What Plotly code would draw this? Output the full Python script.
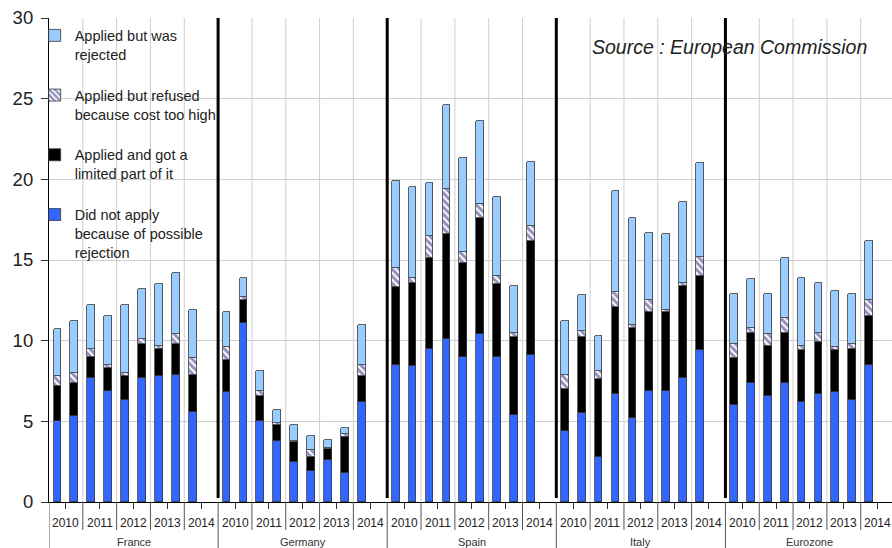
import plotly.graph_objects as go

countries = ["France", "Germany", "Spain", "Italy", "Eurozone"]
years = ["2010", "2011", "2012", "2013", "2014"]
periods = ["2010 H1", "2010 H2", "2011 H1", "2011 H2", "2012 H1", "2012 H2",
           "2013 H1", "2013 H2", "2014 H1"]

# segment heights per country, one value per half-year survey
did_not_apply = {
    "France":   [5.0, 5.3, 7.7, 6.9, 6.3, 7.7, 7.8, 7.9, 5.6],
    "Germany":  [6.8, 11.1, 5.0, 3.8, 2.5, 1.9, 2.6, 1.8, 6.2],
    "Spain":    [8.5, 8.4, 9.5, 10.1, 9.0, 10.4, 9.0, 5.4, 9.1],
    "Italy":    [4.4, 5.5, 2.8, 6.7, 5.2, 6.9, 6.9, 7.7, 9.4],
    "Eurozone": [6.0, 7.4, 6.6, 7.4, 6.2, 6.7, 6.8, 6.3, 8.5],
}
limited_part = {
    "France":   [2.2, 2.1, 1.3, 1.4, 1.5, 2.1, 1.7, 1.9, 2.3],
    "Germany":  [2.0, 1.4, 1.6, 1.0, 1.2, 0.9, 0.7, 2.2, 1.6],
    "Spain":    [4.8, 5.2, 5.6, 6.5, 5.8, 7.2, 4.5, 4.8, 7.1],
    "Italy":    [2.6, 4.7, 4.8, 5.4, 5.6, 4.9, 4.9, 5.7, 4.6],
    "Eurozone": [2.9, 3.1, 3.1, 3.1, 3.2, 3.2, 2.6, 3.2, 3.0],
}
refused_cost = {
    "France":   [0.6, 0.6, 0.5, 0.2, 0.2, 0.3, 0.2, 0.6, 1.0],
    "Germany":  [0.8, 0.2, 0.3, 0.1, 0.1, 0.4, 0.05, 0.2, 0.7],
    "Spain":    [1.2, 0.3, 1.4, 2.8, 0.7, 0.9, 0.5, 0.3, 0.9],
    "Italy":    [0.9, 0.4, 0.5, 0.9, 0.2, 0.7, 0.1, 0.2, 1.2],
    "Eurozone": [0.9, 0.3, 0.7, 0.9, 0.3, 0.6, 0.2, 0.3, 1.0],
}
rejected = {
    "France":   [2.9, 3.2, 2.7, 3.0, 4.2, 3.1, 3.8, 3.8, 3.0],
    "Germany":  [2.2, 1.2, 1.2, 0.8, 1.0, 0.9, 0.5, 0.4, 2.5],
    "Spain":    [5.4, 5.6, 3.3, 5.2, 5.8, 5.1, 4.9, 2.9, 4.0],
    "Italy":    [3.3, 2.2, 2.2, 6.3, 6.6, 4.2, 4.7, 5.0, 5.8],
    "Eurozone": [3.1, 3.0, 2.5, 3.7, 4.2, 3.1, 3.5, 3.1, 3.7],
}

y_ticks = [0, 5, 10, 15, 20, 25, 30]
FONT = "Arial, Liberation Sans, sans-serif"
SLOTS = 10  # half-year slots per country (last one empty)

xs = []
for g, c in enumerate(countries):
    for j, p in enumerate(periods):
        xs.append(g * SLOTS + j + 0.5)

def flat(d):
    out = []
    for c in countries:
        out.extend(d[c])
    return out

series = [
    ("Did not apply<br>because of possible<br>rejection", did_not_apply,
     dict(color="#3366FF"), 4),
    ("Applied and got a<br>limited part of it", limited_part,
     dict(color="#000000"), 3),
    ("Applied but refused<br>because cost too high", refused_cost,
     dict(color="#FFFFFF", pattern=dict(shape="\\", fgcolor="#23237F",
                                         bgcolor="#FFFFFF", size=5, solidity=0.6)), 2),
    ("Applied but was<br>rejected", rejected, dict(color="#99CCFF"), 1),
]

fig = go.Figure()
for i, (name, d, mk, rank) in enumerate(series):
    mk = dict(mk)
    mk["line"] = dict(color="#3A3A3A", width=0.8)
    fig.add_trace(go.Bar(
        x=xs, y=flat(d), name=name, marker=mk, width=0.46,
        legendgroup=f"g{i}", legendrank=rank,
    ))

shapes = []
annotations = []
# thick separators between countries
for g in range(1, len(countries)):
    shapes.append(dict(type="line", xref="x", yref="y", x0=g * SLOTS, x1=g * SLOTS,
                       y0=0.25, y1=30, line=dict(color="black", width=3)))
# lines below axis: country boundaries to bottom, year boundaries shorter
for g in range(len(countries) + 1):
    shapes.append(dict(type="line", xref="x", yref="paper", x0=g * SLOTS, x1=g * SLOTS,
                       y0=0, y1=-48 / 484, line=dict(color="#555555", width=1)))
    if g < len(countries):
        for k in range(1, len(years)):
            xv = g * SLOTS + 2 * k
            shapes.append(dict(type="line", xref="x", yref="paper", x0=xv, x1=xv,
                               y0=0, y1=-28 / 484, line=dict(color="#555555", width=1)))

# year labels and country labels
for g, c in enumerate(countries):
    for k, yv in enumerate(years):
        annotations.append(dict(x=g * SLOTS + 2 * k + 1, y=-21 / 484, xref="x", yref="paper",
                                text=yv, showarrow=False, xanchor="center", yanchor="middle",
                                font=dict(family=FONT, size=12, color="#222222")))
    annotations.append(dict(x=g * SLOTS + 5, y=-40 / 484, xref="x", yref="paper",
                            text=c, showarrow=False, xanchor="center", yanchor="middle",
                            font=dict(family=FONT, size=11, color="#333333")))

annotations.append(dict(x=(729 - 49) / 843, y=(502 - 47) / 484, xref="paper", yref="paper",
                        text="<i>Source : European Commission</i>",
                        showarrow=False, xanchor="center", yanchor="middle",
                        font=dict(family=FONT, size=19.5, color="#222222")))

fig.update_layout(
    width=892, height=548,
    margin=dict(l=49, r=0, t=18, b=46),
    paper_bgcolor="white", plot_bgcolor="white",
    barmode="stack", bargap=0,
    font=dict(family=FONT, color="#222222"),
    showlegend=True,
    legend=dict(x=-0.017, y=0.997, xanchor="left", yanchor="top",
                traceorder="grouped", tracegroupgap=19, valign="top",
                bgcolor="rgba(0,0,0,0)", font=dict(family=FONT, size=14.5, color="#222222"),
                itemwidth=30),
    xaxis=dict(range=[0, 49.85], tickvals=[], showticklabels=False, showgrid=False,
               zeroline=False, showline=True, linecolor="black", linewidth=1,
               minor=dict(tickvals=[g * SLOTS + 2 * k + 1 for g in range(5) for k in range(5)],
                          ticks="outside", ticklen=6, tickcolor="#333333", showgrid=False)),
    yaxis=dict(range=[0, 30], tickvals=y_ticks, ticks="outside", ticklen=7, tickcolor="#333333",
               showline=True, linecolor="black", linewidth=1.2, showgrid=True, gridcolor="#CFCFCF",
               gridwidth=1, zeroline=False, ticklabelstandoff=4,
               tickfont=dict(family=FONT, size=18.5, color="#222222")),
    shapes=shapes, annotations=annotations,
)
# vertical year gridlines inside plot
for g in range(len(countries)):
    for k in range(1, len(years)):
        xv = g * SLOTS + 2 * k
        fig.add_shape(type="line", xref="x", yref="y", x0=xv, x1=xv, y0=0, y1=30,
                      line=dict(color="#CFCFCF", width=1), layer="below")

fig.write_html("out.html", config={"displayModeBar": False},
               post_script="document.body.style.margin='0';document.body.style.overflow='hidden';")
